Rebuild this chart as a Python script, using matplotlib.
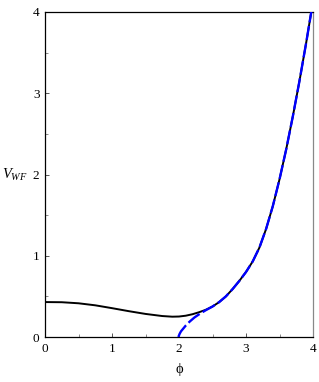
import numpy as np
import matplotlib
matplotlib.use("Agg")
import matplotlib.pyplot as plt

# values
phi_black = [0.0, 0.25, 0.5, 0.75, 1.0, 1.25, 1.5, 1.75, 1.9, 2.0, 2.1, 2.2, 2.3, 2.4,
             2.5, 2.6, 2.7, 2.8, 2.9, 3.0, 3.1, 3.2, 3.3, 3.4, 3.5, 3.6, 3.7, 3.8, 3.9, 4.0]
v_black = [0.43, 0.428, 0.415, 0.39, 0.355, 0.318, 0.284, 0.258, 0.25, 0.252, 0.262, 0.28,
           0.305, 0.335, 0.375, 0.43, 0.50, 0.59, 0.69, 0.80, 0.93, 1.10, 1.33, 1.61,
           1.94, 2.31, 2.72, 3.16, 3.63, 4.13]

phi_blue = [1.99, 2.0, 2.01, 2.03, 2.05, 2.1, 2.16, 2.23, 2.31, 2.4, 2.5, 2.6, 2.7, 2.8,
            2.9, 3.0, 3.1, 3.2, 3.3, 3.4, 3.5, 3.6, 3.7, 3.8, 3.9, 4.0]
v_blue = [0.0, 0.02, 0.04, 0.07, 0.09, 0.14, 0.19, 0.24, 0.285, 0.33, 0.375, 0.43, 0.50,
          0.59, 0.69, 0.80, 0.93, 1.10, 1.33, 1.61, 1.94, 2.31, 2.72, 3.16, 3.63, 4.13]

x_ticks = [0, 1, 2, 3, 4]
y_ticks = [0, 1, 2, 3, 4]

plt.rcParams['font.family'] = ['Liberation Serif', 'DejaVu Serif']
plt.rcParams['mathtext.fontset'] = 'custom'
plt.rcParams['mathtext.it'] = 'Liberation Serif:italic'
plt.rcParams['mathtext.rm'] = 'Liberation Serif'

fig = plt.figure(figsize=(3.19, 3.82), dpi=100)
ax = fig.add_axes([45 / 319, 45 / 382, 268 / 319, 325 / 382])

ax.plot(phi_black, v_black, color='black', linewidth=1.4, zorder=2)
ax.plot(phi_blue, v_blue, color='#0000ff', linewidth=1.7, dashes=[6, 1.5], zorder=3)

ax.set_xlim(0, 4)
ax.set_ylim(0, 4)
ax.set_xticks(x_ticks)
ax.set_yticks(y_ticks)
ax.set_xticks(np.arange(0.5, 4, 1.0), minor=True)
ax.set_yticks(np.arange(0.5, 4, 1.0), minor=True)
ax.tick_params(which='major', direction='in', length=3, width=0.7, labelsize=9.5, pad=4,
               color='#555555')
ax.tick_params(which='minor', direction='in', length=2.5, width=0.6, color='#777777')

for side in ['left', 'top', 'bottom']:
    ax.spines[side].set_color('black')
    ax.spines[side].set_linewidth(0.9)
ax.spines['right'].set_color('#888888')
ax.spines['right'].set_linewidth(0.9)

ax.set_xlabel('ϕ', fontsize=10.5, labelpad=6)
ax.text(-0.065, 2.0, r'$V_{WF}$', transform=ax.get_yaxis_transform(), fontsize=10.5,
        ha='right', va='center')

fig.savefig('out.png', dpi=100)
